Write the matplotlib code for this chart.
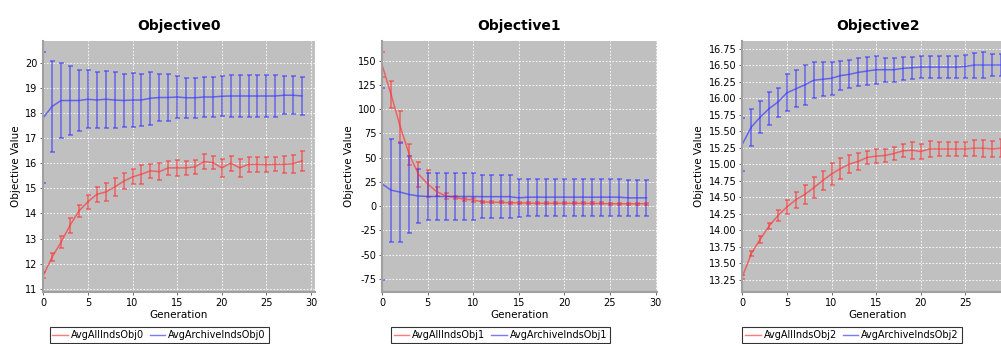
import matplotlib
matplotlib.use("Agg")
import matplotlib.pyplot as plt
from matplotlib.lines import Line2D

generations = list(range(30))

titles = ["Objective0", "Objective1", "Objective2"]
legend_all = ["AvgAllIndsObj0", "AvgAllIndsObj1", "AvgAllIndsObj2"]
legend_arch = ["AvgArchiveIndsObj0", "AvgArchiveIndsObj1", "AvgArchiveIndsObj2"]

# Objective0
obj0_all = [11.54, 12.27, 12.86, 13.53, 14.10, 14.46, 14.76, 14.85, 15.05, 15.28,
            15.45, 15.56, 15.69, 15.66, 15.81, 15.81, 15.81, 15.85, 16.06, 16.02,
            15.81, 16.00, 15.81, 15.95, 15.95, 15.94, 15.95, 15.95, 15.98, 16.09]
obj0_all_err = [0.13, 0.15, 0.25, 0.30, 0.23, 0.28, 0.30, 0.36, 0.36, 0.32,
                0.30, 0.38, 0.28, 0.34, 0.28, 0.32, 0.28, 0.29, 0.30, 0.25,
                0.35, 0.30, 0.37, 0.31, 0.30, 0.30, 0.28, 0.34, 0.36, 0.40]
obj0_arch = [17.81, 18.26, 18.49, 18.49, 18.49, 18.54, 18.51, 18.54, 18.51, 18.49,
             18.51, 18.51, 18.58, 18.61, 18.61, 18.63, 18.60, 18.60, 18.63, 18.63,
             18.66, 18.67, 18.67, 18.67, 18.67, 18.67, 18.67, 18.70, 18.70, 18.67]
obj0_arch_err = [2.61, 1.80, 1.51, 1.38, 1.20, 1.15, 1.12, 1.13, 1.12, 1.07,
                 1.09, 1.05, 1.05, 0.95, 0.95, 0.83, 0.80, 0.80, 0.80, 0.80,
                 0.80, 0.83, 0.83, 0.83, 0.83, 0.83, 0.83, 0.75, 0.75, 0.75]

# Objective1
obj1_all = [146.0, 115.0, 82.0, 53.0, 33.0, 23.0, 15.0, 10.7, 9.0, 7.2,
            6.5, 4.5, 4.0, 4.0, 3.5, 3.5, 3.2, 3.0, 3.0, 3.0,
            3.0, 3.0, 3.0, 2.8, 2.8, 2.5, 2.5, 2.5, 2.5, 2.5]
obj1_all_err = [13.0, 13.8, 15.6, 11.0, 13.0, 14.0, 5.0, 3.0, 2.0, 1.7,
                1.7, 1.0, 1.0, 1.0, 1.0, 1.0, 1.0, 1.0, 1.0, 1.0,
                1.0, 1.0, 1.0, 1.0, 1.0, 1.0, 1.0, 1.0, 1.0, 1.0]
obj1_arch = [23.0, 16.5, 14.5, 12.0, 10.5, 10.0, 10.0, 10.0, 10.0, 10.0,
             10.0, 9.8, 9.8, 9.8, 9.8, 8.6, 9.3, 9.3, 9.3, 9.3,
             9.3, 9.3, 9.3, 9.3, 9.3, 9.3, 9.3, 8.6, 8.6, 8.6]
obj1_arch_err = [99.0, 53.0, 51.0, 40.0, 28.0, 24.0, 24.0, 24.0, 24.0, 24.0,
                 24.0, 22.0, 22.0, 22.0, 22.0, 19.5, 19.0, 19.0, 19.0, 19.0,
                 19.0, 19.0, 19.0, 19.0, 19.0, 19.0, 19.0, 18.5, 18.5, 18.5]

# Objective2
obj2_all = [13.29, 13.64, 13.86, 14.06, 14.22, 14.35, 14.46, 14.54, 14.64, 14.75,
            14.85, 14.93, 15.00, 15.04, 15.10, 15.12, 15.13, 15.16, 15.20, 15.21,
            15.19, 15.23, 15.23, 15.23, 15.23, 15.23, 15.24, 15.24, 15.23, 15.24]
obj2_all_err = [0.03, 0.04, 0.055, 0.05, 0.085, 0.10, 0.12, 0.14, 0.16, 0.14,
                0.16, 0.16, 0.13, 0.13, 0.10, 0.11, 0.10, 0.10, 0.10, 0.13,
                0.11, 0.12, 0.11, 0.11, 0.11, 0.11, 0.12, 0.13, 0.12, 0.14]
obj2_arch = [15.30, 15.56, 15.71, 15.84, 15.94, 16.08, 16.14, 16.20, 16.27, 16.285,
             16.30, 16.34, 16.36, 16.39, 16.41, 16.43, 16.43, 16.43, 16.45, 16.46,
             16.47, 16.47, 16.47, 16.47, 16.47, 16.48, 16.50, 16.50, 16.50, 16.50]
obj2_arch_err = [0.40, 0.28, 0.24, 0.245, 0.22, 0.28, 0.28, 0.30, 0.27, 0.26,
                 0.25, 0.22, 0.21, 0.21, 0.21, 0.21, 0.18, 0.18, 0.17, 0.17,
                 0.17, 0.17, 0.17, 0.17, 0.17, 0.18, 0.19, 0.20, 0.17, 0.17]

all_vals = [obj0_all, obj1_all, obj2_all]
all_errs = [obj0_all_err, obj1_all_err, obj2_all_err]
arch_vals = [obj0_arch, obj1_arch, obj2_arch]
arch_errs = [obj0_arch_err, obj1_arch_err, obj2_arch_err]

ylims = [(10.87, 20.86), (-88.5, 170.3), (13.06, 16.866)]
yticks = [list(range(11, 21)),
          [-75, -50, -25, 0, 25, 50, 75, 100, 125, 150],
          [13.25, 13.5, 13.75, 14.0, 14.25, 14.5, 14.75, 15.0, 15.25, 15.5,
           15.75, 16.0, 16.25, 16.5, 16.75]]
ytickfmt = ["{:.0f}", "{:.0f}", "{:.2f}"]
xlims = [(-0.03, 30.45), (0.0, 30.15), (-0.03, 30.45)]
xticks = [0, 5, 10, 15, 20, 25, 30]

positions = [(0.043, 0.151, 0.2717, 0.730),
             (0.3816, 0.151, 0.2747, 0.730),
             (0.7413, 0.151, 0.2717, 0.730)]
legend_centers = [0.159, 0.5, 0.851]

RED = "#ff3333"
BLUE = "#3333ff"

fig = plt.figure(figsize=(10.01, 3.44), dpi=100)
fig.patch.set_facecolor("white")

for i in range(3):
    ax = fig.add_axes(positions[i])
    ax.set_facecolor("#c0c0c0")
    ax.set_xlim(*xlims[i])
    ax.set_ylim(*ylims[i])
    ax.set_xticks(xticks)
    ax.set_yticks(yticks[i])
    ax.set_yticklabels([ytickfmt[i].format(v) for v in yticks[i]])
    ax.grid(True, color="white", linestyle=(0, (2, 2)), linewidth=0.6)
    ax.set_axisbelow(True)
    ax.tick_params(labelsize=7, length=2, width=0.6, color="#555555", pad=2)
    for s in ["top", "right"]:
        ax.spines[s].set_visible(False)
    for s in ["left", "bottom"]:
        ax.spines[s].set_color("#a0a0a0")
        ax.spines[s].set_linewidth(1.5)

    ax.errorbar(generations, all_vals[i], yerr=all_errs[i], color=RED, alpha=0.65,
                linewidth=1.1, elinewidth=1.1, capsize=1.8, capthick=1.1)
    ax.errorbar(generations, arch_vals[i], yerr=arch_errs[i], color=BLUE, alpha=0.65,
                linewidth=1.1, elinewidth=1.1, capsize=1.8, capthick=1.1)

    ax.set_title(titles[i], fontsize=10, fontweight="bold", pad=8)
    ax.set_xlabel("Generation", fontsize=7.5, labelpad=2)
    ax.set_ylabel("Objective Value", fontsize=7.5, labelpad=3)

    handles = [Line2D([], [], color=RED, alpha=0.65, linewidth=1.0),
               Line2D([], [], color=BLUE, alpha=0.65, linewidth=1.0)]
    leg = fig.legend(handles, [legend_all[i], legend_arch[i]], loc="upper center",
                     bbox_to_anchor=(legend_centers[i], 0.048), ncol=2, fontsize=7,
                     frameon=True, fancybox=False, borderpad=0.3, handlelength=1.6,
                     handletextpad=0.3, columnspacing=0.6, borderaxespad=0)
    leg.get_frame().set_edgecolor("black")
    leg.get_frame().set_linewidth(0.8)

fig.savefig("out.png", dpi=100)
